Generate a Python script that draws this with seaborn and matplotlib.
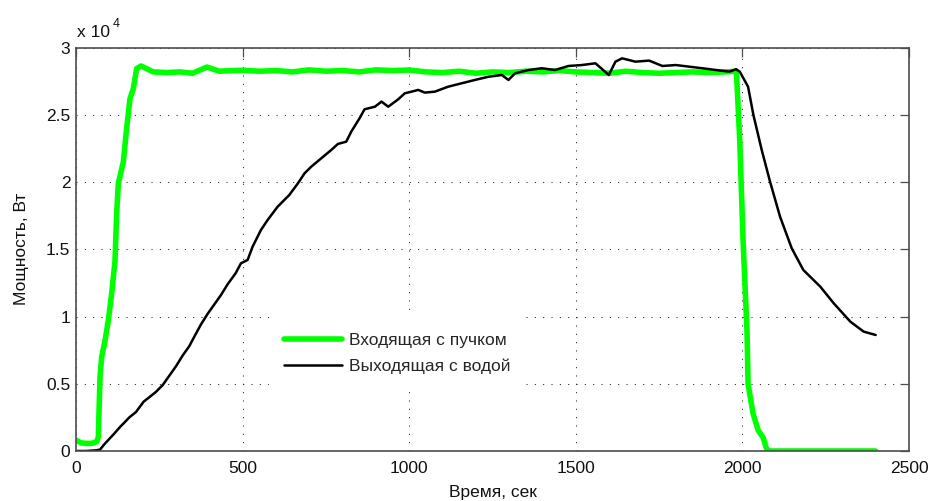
import numpy as np
import pandas as pd
import matplotlib
matplotlib.use("Agg")
import matplotlib.pyplot as plt
import seaborn as sns
from matplotlib.ticker import FuncFormatter, FixedLocator

# ---- data (time in s, power in W) ----
t_in = [0, 15, 30, 45, 62, 67, 72, 77, 87, 97, 107, 117, 122, 127, 142, 152, 162, 172, 182, 195,
        212, 232, 272, 312, 350, 393, 430, 470, 500, 550, 600, 650, 700, 750, 800, 850, 900, 950,
        1000, 1050, 1100, 1150, 1200, 1250, 1300, 1350, 1400, 1450, 1500, 1550, 1600, 1650, 1700,
        1750, 1800, 1850, 1900, 1950, 1982, 1992, 2002, 2014, 2017, 2032, 2047, 2063, 2072, 2080, 2400]
p_in = [810, 600, 570, 560, 690, 1040, 5500, 6980, 8200, 9700, 11700, 14130, 17600, 19900, 21500,
        24000, 26200, 26950, 28440, 28640, 28440, 28200, 28150, 28200, 28100, 28560, 28250, 28300,
        28320, 28250, 28300, 28200, 28350, 28250, 28300, 28200, 28350, 28300, 28340, 28200, 28150,
        28250, 28100, 28200, 28150, 28250, 28200, 28300, 28200, 28150, 28100, 28250, 28150, 28100,
        28150, 28200, 28150, 28200, 28250, 23130, 15700, 8780, 5000, 2800, 1560, 960, 200, 0, 0]

t_out = [0, 30, 60, 72, 85, 100, 115, 133, 143, 160,
         180, 203, 220, 240, 260, 278, 300, 320, 340, 355,
         374, 395, 415, 435, 455, 479, 495, 515, 530, 555,
         575, 605, 640, 666, 686, 706, 736, 766, 786, 811,
         826, 851, 866, 897, 917, 937, 967, 987, 1007, 1027,
         1047, 1077, 1117, 1157, 1197, 1238, 1278, 1298, 1318, 1358,
         1398, 1438, 1478, 1518, 1559, 1599, 1619, 1639, 1679, 1720,
         1760, 1800, 1840, 1880, 1921, 1961, 1981, 1992, 2017, 2033,
         2058, 2083, 2113, 2148, 2183, 2234, 2274, 2324, 2364, 2400]
p_out = [0, 0, 50, 100, 500, 900, 1300, 1810, 2060, 2500,
         2900, 3670, 4000, 4400, 4900, 5530, 6300, 7100, 7800, 8500,
         9370, 10200, 10900, 11600, 12400, 13220, 13960, 14210, 15200, 16440,
         17180, 18170, 19040, 19910, 20660, 21150, 21770, 22390, 22840, 23010,
         23750, 24750, 25420, 25610, 25990, 25610, 26160, 26610, 26730, 26860,
         26660, 26730, 27100, 27350, 27600, 27840, 27970, 27600, 28100, 28340,
         28470, 28340, 28640, 28710, 28840, 27970, 28960, 29210, 28960, 29040,
         28640, 28710, 28590, 28470, 28340, 28220, 28400, 28220, 27100, 25000,
         22390, 20030, 17430, 15080, 13460, 12220, 10990, 9620, 8880, 8630]

label_in = "Входящая с пучком"
label_out = "Выходящая с водой"
x_ticks = [0, 500, 1000, 1500, 2000, 2500]
y_ticks = [0, 5000, 10000, 15000, 20000, 25000, 30000]
x_label = "Время, сек"
y_label = "Мощность, Вт"

sns.set_theme(style="white")
plt.rcParams["font.family"] = ["Liberation Sans", "DejaVu Sans"]

W, H = 929, 501
fig = plt.figure(figsize=(W / 100, H / 100), dpi=100)
ax = fig.add_axes([76 / W, 1 - 451 / H, (909 - 76) / W, (451 - 47.7) / H])

sns.lineplot(x=t_in, y=p_in, ax=ax, color="#00ff00", linewidth=4.0,
             label=label_in, estimator=None, sort=False)
sns.lineplot(x=t_out, y=p_out, ax=ax, color="black", linewidth=1.8,
             label=label_out, estimator=None, sort=False)

ax.set_xlim(0, 2500)
ax.set_ylim(0, 30000)
ax.xaxis.set_major_locator(FixedLocator(x_ticks))
ax.yaxis.set_major_locator(FixedLocator(y_ticks))
ax.yaxis.set_major_formatter(FuncFormatter(lambda v, p: f"{v / 1e4:g}"))

ax.set_axisbelow(True)
ax.grid(True, color="#222222", linestyle=(0, (1, 7)), linewidth=0.75)
for s in ax.spines.values():
    s.set_color("#4d4d4d")
    s.set_linewidth(1.2)
ax.tick_params(direction="in", length=6.5, width=0.9, color="#4d4d4d",
               top=True, right=True, labelsize=12.5, labelcolor="#111111")
ax.tick_params(axis="x", pad=7)
ax.tick_params(axis="y", pad=4)

ax.set_xlabel(x_label, fontsize=12.5, color="#111111")
ax.set_ylabel(y_label, fontsize=12.5, color="#111111")
ax.xaxis.set_label_coords(0.5, -0.084)
ax.yaxis.set_label_coords(-0.057, 0.5)

leg = ax.legend(loc="upper left", bbox_to_anchor=(0.2316, 0.332), borderaxespad=0,
                frameon=True, facecolor="white", edgecolor="none", framealpha=1,
                fancybox=False, fontsize=12.5, handlelength=3.3, handletextpad=0.4,
                borderpad=0.89, labelspacing=0.64)

fig.text(77 / W, 1 - 37.3 / H, "x 10", fontsize=12.5, color="#111111",
         ha="left", va="baseline")
fig.text(113 / W, 1 - 27 / H, "4", fontsize=9, color="#111111",
         ha="left", va="baseline")

fig.savefig("out.png", dpi=100)
